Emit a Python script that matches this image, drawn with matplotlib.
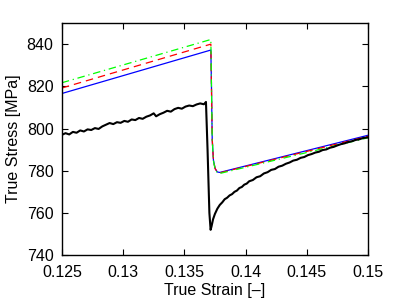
import matplotlib
matplotlib.use("Agg")
import matplotlib.pyplot as plt

# Model curves (strain, stress)
model_strain = [0.125, 0.13717, 0.13722, 0.13728, 0.13738, 0.13752, 0.13770, 0.13790, 0.15]
blue_stress = [816.6, 837.2, 820.0, 795.0, 785.0, 781.0, 779.4, 779.2, 796.8]
red_stress = [819.2, 840.0, 820.0, 795.0, 785.0, 781.0, 779.3, 779.0, 796.3]
green_stress = [821.7, 842.2, 820.0, 795.0, 784.8, 780.6, 779.0, 778.7, 795.6]

# Experimental curve
exp_strain = [
    0.1250, 0.1253, 0.1256, 0.1259, 0.1262, 0.1265, 0.1268, 0.1271, 0.1274, 0.1277,
    0.1280, 0.1283, 0.1286, 0.1289, 0.1292, 0.1295, 0.1298, 0.1301, 0.1304, 0.1307,
    0.1310, 0.1313, 0.1316, 0.1319, 0.1322, 0.1325, 0.1327, 0.1330, 0.1333, 0.1336,
    0.1339, 0.1342, 0.1345, 0.1348, 0.1351, 0.1354, 0.1357, 0.1360, 0.1363, 0.1366,
    0.13677, 0.13690, 0.13705, 0.13715,
    0.13722, 0.13735, 0.13750, 0.13770, 0.13790, 0.13810, 0.13830, 0.13850, 0.13870, 0.13890,
    0.13910, 0.13930, 0.13950, 0.13970, 0.13990, 0.14010, 0.14030, 0.14060, 0.14090, 0.14120,
    0.14150, 0.14180, 0.14210, 0.14240, 0.14270, 0.14300, 0.14330, 0.14360, 0.14390, 0.14420,
    0.14450, 0.14480, 0.14510, 0.14540, 0.14570, 0.14600, 0.14630, 0.14660, 0.14690, 0.14720,
    0.14750, 0.14780, 0.14810, 0.14840, 0.14870, 0.14900, 0.14930, 0.14960, 0.15000,
]
exp_stress = [
    797.0, 797.8, 797.2, 798.4, 798.0, 799.1, 798.6, 799.6, 799.3, 800.2,
    799.8, 801.0, 801.8, 802.6, 802.1, 803.0, 802.7, 803.6, 803.2, 804.3,
    804.0, 805.0, 804.6, 805.6, 806.2, 807.2, 805.8, 806.8, 807.5, 808.4,
    808.0, 809.2, 809.8, 809.4, 810.4, 810.9, 810.6, 811.4, 811.9, 811.5,
    812.6, 790.0, 760.0, 752.0,
    753.5, 757.0, 759.5, 762.0, 763.8, 765.0, 766.5, 767.2, 768.3, 768.9,
    770.0, 770.6, 771.8, 772.3, 773.4, 773.9, 775.0, 775.6, 776.9, 777.4,
    778.7, 779.3, 780.4, 780.8, 781.9, 782.4, 783.3, 783.9, 784.8, 785.2,
    786.1, 786.5, 787.4, 787.9, 788.6, 789.0, 789.8, 790.1, 790.9, 791.3,
    792.0, 792.6, 793.0, 793.6, 794.0, 794.6, 794.9, 795.5, 795.8,
]

xticks = [0.125, 0.13, 0.135, 0.14, 0.145, 0.15]
xticklabels = ["0.125", "0.13", "0.135", "0.14", "0.145", "0.15"]
yticks = [740, 760, 780, 800, 820, 840]

plt.rcParams['font.family'] = ['Liberation Sans', 'DejaVu Sans']
fig = plt.figure(figsize=(4.07, 3.03), dpi=100)
ax = fig.add_axes([0.152, 0.158, 0.752, 0.766])

ax.plot(model_strain, blue_stress, color='#0000ff', lw=0.9, ls='-')
ax.plot(model_strain, red_stress, color='#ff0000', lw=0.9, ls=(0, (6, 4)))
ax.plot(model_strain, green_stress, color='#00ff00', lw=0.9, ls=(0, (6, 3, 1, 3)))
ax.plot(exp_strain, exp_stress, color='black', lw=1.5)

ax.set_xlim(0.125, 0.15)
ax.set_ylim(740, 850)
ax.set_xticks(xticks)
ax.set_xticklabels(xticklabels)
ax.set_yticks(yticks)
ax.tick_params(direction='in', top=True, right=True, labelsize=11.5, length=4, width=0.8)
ax.tick_params(axis='x', pad=7)
ax.tick_params(axis='y', pad=6)
for s in ax.spines.values():
    s.set_linewidth(1.0)
ax.set_xlabel("True Strain [\u2013]", fontsize=11.5, labelpad=2)
ax.set_ylabel("True Stress [MPa]", fontsize=11.5, labelpad=4)

fig.savefig("out.png", dpi=100)
